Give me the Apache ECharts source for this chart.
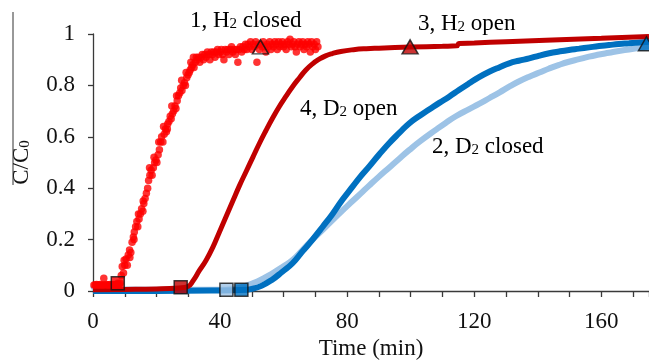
<!DOCTYPE html>
<html>
<head>
<meta charset="utf-8">
<script src="https://cdn.jsdelivr.net/npm/echarts@6/dist/echarts.min.js"></script>
<style>
  html, body { margin: 0; padding: 0; background: #fff; }
  #chart { width: 649px; height: 361px; }
</style>
</head>
<body>
<div id="chart"></div>
<script>
// x ticks (min) and y ticks (C/C0)
var xTicks = [0, 40, 80, 120, 160];
var yTicks = [0, 0.2, 0.4, 0.6, 0.8, 1];

// 1, H2 closed - scattered measurement points [time, C/C0]
var h2Closed = [
  [0.3,0.023],[0.7,0.023],[1.1,0.025],[1.5,0.023],[1.9,0.023],[2.3,0.025],[2.7,0.023],[3.1,0.023],[3.4,0.05],
  [3.8,0.023],[4.2,0.025],[4.6,0.023],[5.0,0.023],[5.4,0.025],[5.8,0.023],[6.2,0.023],[6.6,0.025],[7.0,0.023],
  [7.4,0.025],[7.8,0.03],[8.2,0.025],[8.5,0.03],
  [8.9,0.06],[9.2,0.095],[9.6,0.07],[10.0,0.10],[10.4,0.125],[10.8,0.10],[11.1,0.14],[11.5,0.16],[11.9,0.15],
  [12.3,0.19],[12.7,0.21],[13.0,0.23],[13.4,0.25],[13.8,0.27],[14.1,0.25],[14.5,0.28],[14.9,0.30],[15.3,0.32],
  [15.7,0.31],[16.0,0.34],[16.4,0.36],[16.8,0.38],[17.2,0.40],[17.5,0.43],[17.9,0.45],[18.3,0.47],[18.6,0.45],
  [19.0,0.48],[19.4,0.50],[19.8,0.51],[20.1,0.50],[20.5,0.53],[20.9,0.55],[21.3,0.58],[21.6,0.60],[22.0,0.58],
  [22.4,0.61],[22.8,0.63],[23.1,0.62],[23.5,0.65],[23.9,0.66],[24.3,0.68],[24.6,0.67],[25.0,0.69],[25.4,0.70],
  [25.8,0.72],[26.1,0.71],[26.5,0.74],[26.9,0.76],[27.3,0.77],[27.6,0.79],[28.0,0.78],[28.4,0.80],[28.8,0.81],
  [29.1,0.80],[29.5,0.83],[29.9,0.84],[30.3,0.85],[30.6,0.86],[31.0,0.87],[31.4,0.88],[31.8,0.87],[32.2,0.89],
  [32.5,0.91],
  [9.8,0.12],[11.6,0.13],[12.9,0.20],[14.3,0.30],[15.8,0.35],[17.8,0.48],[19.2,0.52],[20.7,0.58],[22.2,0.64],
  [23.4,0.63],[24.8,0.72],[26.3,0.76],[27.9,0.82],[29.3,0.85],[30.8,0.89],[31.6,0.91],
  [32.8,0.90],[33.2,0.91],[33.6,0.89],[34.0,0.91],[34.4,0.92],[34.8,0.90],[35.2,0.92],[35.6,0.91],[36.0,0.93],
  [36.4,0.92],[36.8,0.90],[37.2,0.93],[37.6,0.92],[38.0,0.93],[38.4,0.91],[38.8,0.93],[39.2,0.94],[39.6,0.92],
  [40.0,0.93],[40.4,0.94],[40.8,0.92],[41.2,0.90],[41.6,0.94],[42.0,0.93],[42.4,0.94],[42.8,0.92],[43.2,0.94],
  [43.6,0.95],[44.0,0.93],[44.4,0.94],[44.8,0.92],[45.2,0.94],[45.6,0.89],[46.0,0.94],[46.4,0.95],[46.8,0.93],
  [47.2,0.95],[47.6,0.94],[48.0,0.96],[48.4,0.94],[48.8,0.96],[49.2,0.95],[49.6,0.97],[50.0,0.94],[50.4,0.96],
  [50.8,0.95],[51.2,0.97],[51.6,0.89],[52.0,0.96],[52.4,0.94],[52.8,0.96],[53.2,0.95],[53.6,0.97],[54.0,0.95],
  [54.4,0.93],[54.8,0.96],[55.2,0.95],[55.6,0.97],[56.0,0.94],[56.4,0.96],[56.8,0.95],[57.2,0.97],[57.6,0.96],
  [58.0,0.94],[58.4,0.97],[58.8,0.95],[59.2,0.96],[59.6,0.97],[60.0,0.95],[60.4,0.96],[60.8,0.94],[61.2,0.97],
  [61.6,0.96],[62.0,0.98],[62.4,0.95],[62.8,0.96],[63.2,0.97],[63.6,0.95],[64.0,0.93],[64.4,0.96],[64.8,0.97],
  [65.2,0.95],[65.6,0.96],[66.0,0.97],[66.4,0.94],[66.8,0.96],[67.2,0.95],[67.6,0.97],[68.0,0.96],[68.4,0.93],
  [68.8,0.97],[69.2,0.95],[69.6,0.96],[70.0,0.94],[70.4,0.97],[70.8,0.95]
];

// 3, H2 open
var h2Open = [
  [0,0.005],[10,0.006],[20,0.008],[27,0.012],[29.8,0.017],[31.5,0.04],[33.5,0.08],[35.6,0.12],[37.7,0.17],
  [39.8,0.23],[41.9,0.29],[44,0.35],[46.1,0.41],[48.2,0.465],[50.3,0.52],[52.4,0.575],[54.5,0.626],[56.5,0.672],
  [58.6,0.717],[60.7,0.757],[62.8,0.795],[65,0.83],[67,0.86],[69,0.883],[71.2,0.902],[73.2,0.915],[75.3,0.924],
  [78,0.932],[82,0.939],[86,0.943],[90,0.945],[100,0.949],[110,0.952],[114.5,0.954],[115.2,0.963],[120,0.965],
  [130,0.97],[142.5,0.976],[160,0.983],[175,0.99]
];

// 4, D2 open
var d2Open = [
  [0,0],[20,0],[40,0.002],[48,0.005],[50,0.008],[53,0.02],[56.5,0.045],[59.6,0.075],[62.8,0.108],[66,0.155],
  [69.1,0.2],[72.3,0.25],[75.4,0.3],[78.5,0.355],[81.7,0.406],[84.3,0.447],[86.9,0.484],[90,0.53],[93.2,0.575],
  [96.4,0.615],[99.5,0.652],[102.6,0.68],[105.8,0.706],[109,0.732],[112.1,0.756],[115.3,0.783],[118.4,0.808],
  [121.5,0.832],[124.7,0.853],[128,0.871],[131,0.886],[134,0.896],[137.3,0.905],[140.5,0.916],[143.6,0.925],
  [146.7,0.932],[149.8,0.938],[153,0.943],[156.1,0.948],[159.3,0.953],[162.4,0.957],[165.5,0.961],[168.7,0.964],
  [175,0.97]
];

// 2, D2 closed
var d2Closed = [
  [0,0.02],[1,0.008],[20,0.005],[42,0.006],[46,0.012],[50.3,0.03],[53.5,0.048],[56.5,0.069],[59.6,0.093],
  [62.8,0.12],[66,0.16],[69.1,0.2],[72.3,0.238],[75.4,0.276],[78.5,0.313],[81.7,0.35],[84.3,0.38],[86.9,0.41],
  [90,0.445],[93.2,0.48],[96.4,0.515],[99.5,0.548],[103,0.583],[108,0.628],[111,0.654],[114.2,0.68],[118.4,0.708],
  [121.5,0.728],[124.7,0.75],[128,0.773],[131,0.795],[134,0.815],[137.3,0.834],[140.5,0.85],[143.6,0.866],
  [146.7,0.88],[149.8,0.892],[153,0.902],[156.1,0.912],[159.3,0.92],[162.4,0.927],[165.5,0.934],[168.7,0.94],
  [175,0.952]
];

// start (square) and end (triangle) markers for each run
var h2ClosedMarks = [[7.8, 0.03], [52.7, 0.95]];
var h2OpenMarks = [[27.6, 0.015], [99.8, 0.95]];
var d2ClosedMarks = [[42.0, 0.005]];
var d2OpenMarks = [[46.7, 0.005], [174.2, 0.962]];

var labels = [
  { a: "1, H", s: "2", b: " closed" },
  { a: "3, H", s: "2", b: " open" },
  { a: "4, D", s: "2", b: " open" },
  { a: "2, D", s: "2", b: " closed" }
];

var FONT = "'Liberation Serif', 'Times New Roman', serif";
var AXIS = "#3a3a3a";

var myChart = echarts.init(document.getElementById("chart"));

function markSeries(data, color, shapes) {
  return {
    type: "scatter",
    z: 10,
    data: data.map(function(p, i) {
      var sq = shapes[i] === "sq";
      return {
        value: p,
        symbol: sq ? "rect" : "triangle",
        symbolSize: sq ? 13 : [16, 14],
        itemStyle: { color: color, borderColor: "#111", borderWidth: 1.5 }
      };
    }),
    silent: true
  };
}

function richText(l) {
  return "{a|" + l.a + "}{s|" + l.s + "}{a|" + l.b + "}";
}
var rich = {
  a: { fontFamily: FONT, fontSize: 23, color: "#111" },
  s: { fontFamily: FONT, fontSize: 15, color: "#111", verticalAlign: "bottom" }
};
var labelPos = [[190, 22], [418, 25], [300, 110], [432, 148]];

var option = {
  animation: false,
  grid: { left: 93, right: 0, top: 34, bottom: 70, containLabel: false, outerBoundsMode: "none" },
  xAxis: {
    type: "value",
    min: 0,
    max: 175,
    interval: 10,
    name: "Time (min)",
    nameLocation: "middle",
    nameGap: 39,
    nameTextStyle: { fontFamily: FONT, fontSize: 23, color: "#111" },
    axisLine: { lineStyle: { color: AXIS, width: 1.3 } },
    axisTick: { show: true, length: 6, lineStyle: { color: AXIS, width: 1.3 } },
    axisLabel: {
      fontFamily: FONT, fontSize: 23, color: "#111", margin: 19,
      formatter: function(v) { return xTicks.indexOf(v) >= 0 ? String(v) : ""; }
    },
    splitLine: { show: false }
  },
  yAxis: {
    type: "value",
    min: 0,
    max: 1,
    interval: 0.2,
    name: "{a|C/C}{s|0}",
    nameLocation: "middle",
    nameRotate: 90,
    nameGap: 60,
    nameTextStyle: {
      rich: {
        a: { fontFamily: FONT, fontSize: 23, color: "#111" },
        s: { fontFamily: FONT, fontSize: 15, color: "#111", verticalAlign: "bottom" }
      }
    },
    axisLine: { show: true, lineStyle: { color: AXIS, width: 1.3 } },
    axisTick: { show: true, length: 5, lineStyle: { color: AXIS, width: 1.3 } },
    axisLabel: {
      fontFamily: FONT, fontSize: 23, color: "#111", margin: 18,
      formatter: function(v) {
        var r = Math.round(v * 10) / 10;
        return yTicks.indexOf(r) >= 0 ? String(r) : "";
      }
    },
    splitLine: { show: false }
  },
  graphic: [
    { type: "line", shape: { x1: 13, y1: 12, x2: 13, y2: 185 }, style: { stroke: "#333", lineWidth: 1 } }
  ].concat(labels.map(function(l, i) {
    return {
      type: "text",
      left: labelPos[i][0],
      top: labelPos[i][1] - 13,
      z: 20,
      style: { text: richText(l), rich: rich }
    };
  })),
  series: [
    {
      name: "2, D2 closed", type: "line", data: d2Closed, smooth: 0.5,
      showSymbol: false, z: 2, lineStyle: { color: "#9DC3E6", width: 6 }
    },
    {
      name: "4, D2 open", type: "line", data: d2Open, smooth: 0.5,
      showSymbol: false, z: 3, lineStyle: { color: "#0070C0", width: 6 }
    },
    {
      name: "3, H2 open", type: "line", data: h2Open, smooth: 0.5,
      showSymbol: false, z: 4, lineStyle: { color: "#C00000", width: 5 }
    },
    {
      name: "1, H2 closed", type: "scatter", data: h2Closed, symbolSize: 7.5, z: 5,
      itemStyle: { color: "#FF0000" }
    },
    markSeries(h2ClosedMarks, "#FF0000", ["sq", "tri"]),
    markSeries(h2OpenMarks, "#C00000", ["sq", "tri"]),
    markSeries(d2ClosedMarks, "#9DC3E6", ["sq"]),
    markSeries(d2OpenMarks, "#0070C0", ["sq", "tri"])
  ]
};
// H2 closed triangle is hollow in the original
option.series[4].data[1].itemStyle.color = "rgba(255,255,255,0)";

myChart.setOption(option);
window.addEventListener("resize", () => {
  myChart.resize();
});
</script>
</body>
</html>
